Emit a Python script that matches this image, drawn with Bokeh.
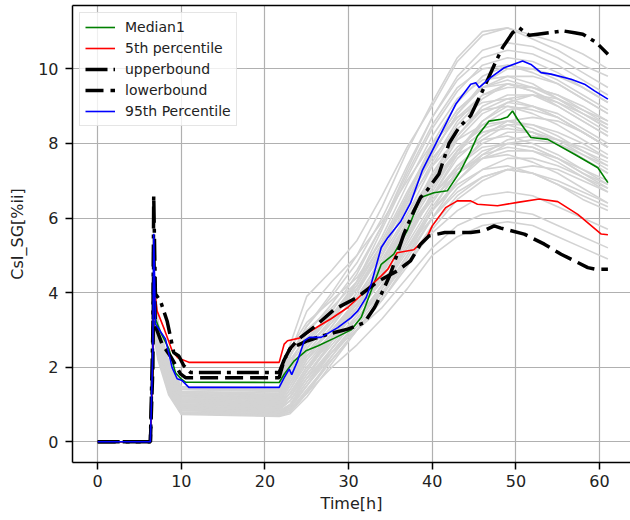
from bokeh.plotting import figure
from bokeh.models import Range1d, LinearAxis, FixedTicker
from bokeh.embed import file_html
from bokeh.resources import INLINE

# ---------------- data ----------------
time_gray = [0, 6.3, 6.7, 7.2, 8.5, 10, 21.7, 23, 25, 28, 31, 34, 37, 40, 43, 46, 49, 52, 55, 58, 61]
gray_curves = [
    [0, 0, 4.6, 3.1, 2.1, 1.45, 1.40, 2.6, 3.9, 4.6, 5.4, 6.6, 7.9, 9.0, 10.2, 10.9, 11.1, 10.9, 10.7, 10.4, 10.0],
    [0, 0, 4.2, 3.0, 2.0, 1.35, 1.30, 2.3, 3.1, 4.0, 5.0, 6.3, 7.8, 9.1, 10.3, 11.0, 11.1, 10.8, 10.5, 10.1, 9.8],
    [0, 0, 3.9, 2.9, 1.9, 1.25, 1.20, 1.9, 2.7, 3.5, 4.5, 5.8, 7.3, 8.7, 9.8, 10.5, 10.7, 10.6, 10.3, 9.9, 9.5],
    [0, 0, 3.7, 2.8, 1.8, 1.15, 1.10, 1.6, 2.4, 3.2, 4.3, 5.7, 7.1, 8.4, 9.4, 10.1, 10.3, 10.2, 9.9, 9.5, 9.1],
    [0, 0, 3.5, 2.7, 1.7, 1.05, 1.00, 1.4, 2.2, 3.1, 4.0, 5.2, 6.6, 8.0, 9.1, 9.8, 10.1, 10.0, 9.7, 9.3, 8.9],
    [0, 0, 3.3, 2.6, 1.6, 0.95, 0.90, 1.2, 1.9, 2.9, 3.8, 5.0, 6.4, 7.7, 8.8, 9.5, 9.8, 9.8, 9.6, 9.2, 8.8],
    [0, 0, 3.2, 2.5, 1.5, 0.85, 0.80, 1.0, 1.7, 2.7, 3.6, 4.8, 6.1, 7.4, 8.5, 9.2, 9.6, 9.5, 9.3, 8.9, 8.5],
    [0, 0, 3.0, 2.4, 1.4, 0.80, 0.75, 0.9, 1.5, 2.5, 3.4, 4.5, 5.8, 7.1, 8.2, 9.0, 9.3, 9.3, 9.0, 8.6, 8.2],
    [0, 0, 3.0, 2.3, 1.3, 0.75, 0.70, 0.8, 1.3, 2.3, 3.2, 4.2, 5.4, 6.7, 7.8, 8.6, 9.0, 8.9, 8.7, 8.3, 7.9],
    [0, 0, 2.9, 2.2, 1.25, 0.73, 0.68, 0.75, 1.2, 2.1, 3.0, 3.9, 5.0, 6.2, 7.3, 8.1, 8.5, 8.5, 8.3, 8.0, 7.6],
    [0, 0, 4.4, 3.1, 2.05, 1.40, 1.35, 2.2, 2.8, 3.4, 4.1, 5.2, 6.5, 7.6, 8.4, 8.9, 9.0, 8.8, 8.5, 8.1, 7.7],
    [0, 0, 4.0, 3.0, 1.95, 1.30, 1.25, 2.0, 2.6, 3.2, 3.9, 4.9, 6.0, 7.0, 7.8, 8.3, 8.4, 8.3, 8.0, 7.6, 7.2],
    [0, 0, 3.8, 2.9, 1.85, 1.20, 1.15, 1.7, 2.4, 3.0, 3.7, 4.6, 5.6, 6.5, 7.2, 7.7, 7.9, 7.8, 7.5, 7.1, 6.7],
    [0, 0, 3.6, 2.8, 1.75, 1.10, 1.05, 1.5, 2.2, 2.9, 3.5, 4.3, 5.2, 6.0, 6.7, 7.1, 7.3, 7.2, 6.9, 6.5, 6.2],
    [0, 0, 3.4, 2.7, 1.65, 1.00, 0.95, 1.3, 2.0, 2.7, 3.3, 4.0, 4.8, 5.6, 6.2, 6.6, 6.7, 6.6, 6.3, 6.0, 5.7],
    [0, 0, 3.2, 2.6, 1.55, 0.90, 0.85, 1.1, 1.7, 2.4, 3.0, 3.6, 4.4, 5.2, 5.8, 6.1, 6.2, 6.1, 5.8, 5.5, 5.2],
    [0, 0, 3.0, 2.4, 1.35, 0.75, 0.70, 0.8, 1.3, 2.0, 2.6, 3.3, 4.1, 5.0, 5.5, 5.8, 5.9, 5.8, 5.5, 5.2, 4.9],
    [0, 0, 4.8, 3.2, 2.15, 1.48, 1.45, 2.5, 3.2, 3.8, 4.4, 5.4, 6.7, 7.9, 8.9, 9.5, 9.6, 9.4, 9.1, 8.7, 8.3],
    [0, 0, 4.5, 3.1, 2.1, 1.45, 1.40, 2.4, 3.5, 4.3, 5.0, 5.9, 7.0, 8.0, 8.7, 9.1, 9.2, 9.0, 8.7, 8.3, 7.9],
    [0, 0, 3.9, 2.9, 1.9, 1.25, 1.20, 1.8, 2.5, 3.3, 4.2, 5.3, 6.6, 7.8, 8.7, 9.3, 9.5, 9.5, 9.3, 9.0, 8.6],
    [0, 0, 3.5, 2.7, 1.7, 1.05, 1.00, 1.3, 1.9, 2.8, 3.7, 4.7, 5.9, 7.2, 8.2, 8.9, 9.2, 9.3, 9.1, 8.8, 8.4],
    [0, 0, 3.3, 2.6, 1.6, 0.95, 0.90, 1.1, 1.8, 2.6, 3.4, 4.4, 5.5, 6.6, 7.6, 8.2, 8.6, 8.7, 8.6, 8.3, 7.9],
    [0, 0, 3.1, 2.5, 1.5, 0.85, 0.80, 0.95, 1.6, 2.4, 3.2, 4.1, 5.1, 6.2, 7.0, 7.6, 8.0, 8.1, 8.0, 7.7, 7.4],
    [0, 0, 2.9, 2.3, 1.3, 0.77, 0.72, 0.8, 1.3, 2.2, 3.0, 3.8, 4.7, 5.7, 6.5, 7.0, 7.3, 7.4, 7.3, 7.0, 6.7],
    [0, 0, 4.1, 3.0, 2.0, 1.35, 1.30, 2.1, 2.9, 3.7, 4.6, 5.8, 7.2, 8.5, 9.5, 10.0, 10.1, 9.9, 9.6, 9.2, 8.8],
    [0, 0, 3.7, 2.8, 1.8, 1.15, 1.10, 1.6, 2.3, 3.0, 3.8, 4.8, 5.9, 6.9, 7.7, 8.1, 8.2, 8.0, 7.7, 7.3, 6.9],
    [0, 0, 3.4, 2.7, 1.65, 1.00, 0.95, 1.2, 1.9, 2.8, 3.6, 4.6, 5.7, 6.8, 7.8, 8.5, 8.9, 9.0, 8.8, 8.4, 8.0],
    [0, 0, 3.1, 2.5, 1.45, 0.83, 0.78, 0.9, 1.5, 2.3, 3.1, 4.0, 5.0, 6.0, 6.8, 7.3, 7.6, 7.6, 7.4, 7.1, 6.8],
    [0, 0, 4.3, 3.05, 2.05, 1.40, 1.35, 2.3, 3.0, 3.6, 4.3, 5.3, 6.4, 7.4, 8.1, 8.5, 8.6, 8.4, 8.1, 7.7, 7.3],
    [0, 0, 3.5, 2.7, 1.7, 1.05, 1.00, 1.3, 2.0, 2.8, 3.6, 4.5, 5.6, 6.6, 7.4, 7.9, 8.0, 7.9, 7.6, 7.2, 6.8],
    [0, 0, 3.6, 2.75, 1.75, 1.12, 1.07, 1.5, 2.3, 3.1, 4.0, 5.1, 6.3, 7.5, 8.6, 9.3, 9.6, 9.4, 9.0, 8.6, 8.2],
    [0, 0, 3.3, 2.6, 1.6, 0.93, 0.88, 1.2, 1.8, 2.7, 3.5, 4.4, 5.4, 6.6, 7.7, 8.6, 9.1, 9.3, 9.2, 8.9, 8.6],
    [0, 0, 4.0, 2.95, 1.9, 1.28, 1.23, 1.9, 2.6, 3.4, 4.3, 5.5, 6.9, 8.2, 9.2, 9.7, 9.8, 9.6, 9.2, 8.8, 8.4],
    [0, 0, 3.2, 2.55, 1.5, 0.88, 0.83, 1.0, 1.6, 2.5, 3.3, 4.2, 5.3, 6.4, 7.4, 8.0, 8.3, 8.3, 8.1, 7.8, 7.5],
    [0, 0, 3.8, 2.9, 1.85, 1.18, 1.13, 1.7, 2.5, 3.3, 4.1, 5.0, 6.1, 7.1, 7.9, 8.4, 8.6, 8.5, 8.2, 7.8, 7.4],
    [0, 0, 3.0, 2.4, 1.4, 0.80, 0.75, 0.85, 1.4, 2.2, 3.0, 3.9, 4.9, 6.0, 7.0, 7.7, 8.1, 8.2, 8.1, 7.9, 7.6],
    [0, 0, 3.5, 2.7, 1.7, 1.02, 0.97, 1.3, 2.0, 2.9, 3.7, 4.7, 5.8, 6.9, 7.8, 8.3, 8.5, 8.3, 8.0, 7.6, 7.2],
    [0, 0, 4.2, 3.0, 2.0, 1.32, 1.27, 2.1, 2.7, 3.4, 4.2, 5.3, 6.6, 7.9, 8.9, 9.5, 9.7, 9.5, 9.2, 8.8, 8.5],
    [0, 0, 3.4, 2.65, 1.65, 0.98, 0.93, 1.2, 1.9, 2.8, 3.6, 4.6, 5.8, 7.0, 8.1, 8.8, 9.1, 9.0, 8.7, 8.3, 7.9],
    [0, 0, 3.1, 2.45, 1.45, 0.85, 0.80, 0.95, 1.5, 2.4, 3.2, 4.1, 5.2, 6.3, 7.2, 7.8, 8.0, 7.9, 7.6, 7.2, 6.9],
    [0, 0, 3.7, 2.85, 1.8, 1.12, 1.07, 1.6, 2.3, 3.0, 3.8, 4.7, 5.7, 6.6, 7.3, 7.6, 7.7, 7.5, 7.2, 6.8, 6.4],
    [0, 0, 3.3, 2.6, 1.6, 0.92, 0.87, 1.1, 1.7, 2.5, 3.3, 4.2, 5.2, 6.2, 6.9, 7.3, 7.4, 7.2, 6.9, 6.6, 6.3],
    [0, 0, 4.4, 3.1, 2.05, 1.42, 1.37, 2.3, 3.1, 3.9, 4.8, 6.0, 7.4, 8.7, 9.7, 10.3, 10.5, 10.4, 10.1, 9.7, 9.3],
    [0, 0, 3.9, 2.9, 1.9, 1.22, 1.17, 1.8, 2.5, 3.3, 4.1, 5.2, 6.5, 7.7, 8.8, 9.6, 10.0, 10.0, 9.8, 9.5, 9.1],
    [0, 0, 3.0, 2.35, 1.35, 0.78, 0.73, 0.85, 1.35, 2.2, 3.0, 3.8, 4.8, 5.8, 6.6, 7.1, 7.3, 7.2, 7.0, 6.7, 6.4],
    [0, 0, 3.6, 2.75, 1.75, 1.08, 1.03, 1.4, 2.1, 2.9, 3.7, 4.6, 5.6, 6.5, 7.2, 7.6, 7.8, 7.8, 7.6, 7.3, 7.0],
]

median_t = [0, 6.3, 6.6, 6.7, 6.9, 7.5, 8.5, 9.3, 10.0, 10.5, 21.7, 22.3, 23.5, 24.9, 26.3, 28.3, 30.3,
            31.5, 32.7, 33.9, 35.4, 37.0, 38.6, 40.2, 41.8, 43.4, 44.6, 45.4, 46.8, 48.2, 49.0, 49.6,
            50.2, 51.8, 53.8, 57.0, 59.8, 61.0]
median_y = [0, 0, 2.0, 4.6, 3.3, 2.95, 2.5, 1.85, 1.68, 1.6, 1.59, 1.81, 2.17, 2.44, 2.57, 2.78, 3.0,
            3.33, 4.05, 4.76, 5.03, 5.66, 6.55, 6.68, 6.73, 7.27, 7.8, 8.2, 8.6, 8.65, 8.71, 8.87,
            8.65, 8.16, 8.11, 7.71, 7.35, 6.95]

p5_t = [0, 6.3, 6.6, 6.7, 6.9, 7.1, 8.0, 8.9, 9.6, 10.9, 21.7, 22.3, 22.7, 24.1, 26.5, 27.9, 29.9,
        31.1, 32.7, 33.9, 34.7, 35.8, 37.8, 39.4, 40.0, 41.6, 43.0, 44.6, 45.4, 47.8, 50.2, 52.8,
        55.0, 57.4, 60.2, 61.0]
p5_y = [0, 0, 2.0, 4.3, 3.9, 3.51, 3.0, 2.44, 2.25, 2.13, 2.13, 2.62, 2.71, 2.78, 3.11, 3.3, 3.6,
        3.85, 4.2, 4.45, 4.63, 5.07, 5.15, 5.5, 5.79, 6.28, 6.46, 6.46, 6.37, 6.33, 6.42, 6.51,
        6.44, 6.1, 5.57, 5.55]

upper_t = [0, 6.3, 6.6, 6.7, 6.9, 7.5, 8.3, 9.1, 9.7, 10.3, 11.1, 21.7, 22.3, 23.0, 24.0, 25.1,
           26.3, 28.3, 29.9, 31.9, 33.1, 34.1, 35.0, 35.8, 36.6, 37.8, 38.6, 39.4, 40.8, 42.0,
           43.2, 44.6, 46.2, 47.4, 48.4, 49.6, 50.4, 51.6, 52.6, 54.0, 55.6, 57.0, 58.0, 59.6, 61.0]
upper_y = [0, 0, 3.0, 6.6, 3.97, 3.78, 3.24, 2.39, 2.3, 2.04, 1.86, 1.86, 2.2, 2.5, 2.6, 2.71,
           2.8, 2.93, 3.02, 3.2, 3.6, 4.05, 4.5, 5.03, 5.57, 6.19, 6.55, 6.75, 7.18, 8.0,
           8.43, 8.75, 9.5, 10.1, 10.57, 10.97, 11.1, 10.9, 10.93, 10.97, 11.02, 10.97, 10.93, 10.71, 10.39]

lower_t = [0, 6.3, 6.6, 6.7, 6.9, 7.7, 8.8, 9.9, 10.5, 21.7, 22.3, 23.0, 24.0, 26.0, 28.3, 31.0,
           33.5, 35.8, 37.4, 38.6, 39.6, 41.5, 44.6, 46.2, 47.4, 48.2, 51.0, 53.4, 55.4, 58.6, 59.5, 61.0]
lower_y = [0, 0, 2.0, 5.2, 3.1, 2.62, 2.26, 1.82, 1.72, 1.72, 2.2, 2.5, 2.75, 3.1, 3.55, 3.87,
           4.3, 4.58, 4.85, 5.3, 5.52, 5.61, 5.61, 5.66, 5.79, 5.73, 5.57, 5.3, 5.03, 4.67, 4.63, 4.63]

p95_t = [0, 6.3, 6.6, 6.7, 6.9, 8.1, 8.9, 9.5, 10.1, 10.9, 21.7, 22.3, 22.9, 23.2, 23.9, 24.7,
         25.3, 26.7, 28.7, 30.3, 31.1, 32.1, 32.7, 33.9, 34.7, 36.2, 37.4, 38.8, 40.4, 42.8, 44.6,
         45.2, 45.6, 47.0, 48.6, 50.8, 51.8, 53.0, 54.2, 56.6, 58.2, 59.4, 61.0]
p95_y = [0, 0, 2.5, 5.58, 3.16, 2.76, 1.99, 1.69, 1.64, 1.46, 1.46, 1.72, 1.95, 1.8, 2.17, 2.71,
         2.8, 2.8, 3.06, 3.33, 3.51, 3.87, 4.23, 5.21, 5.48, 5.9, 6.4, 7.27, 7.98, 9.05, 9.59,
         9.63, 9.5, 9.77, 10.03, 10.21, 10.12, 9.9, 9.86, 9.72, 9.59, 9.41, 9.19]

x_ticks = [0, 10, 20, 30, 40, 50, 60]
y_ticks = [0, 2, 4, 6, 8, 10]

FONT = "DejaVu Sans"

p = figure(width=630, height=520, output_backend="svg", toolbar_location=None,
           x_range=Range1d(-3.01, 63.7), y_range=Range1d(-0.556, 11.70),
           min_border_left=72, min_border_right=0, min_border_top=5, min_border_bottom=58)
p.outline_line_color = None
p.background_fill_color = "white"
p.border_fill_color = "white"

for ax in (p.xaxis[0], p.yaxis[0]):
    ax.axis_line_color = "black"
    ax.axis_line_width = 1.5
    ax.major_tick_line_color = "black"
    ax.major_tick_line_width = 1.5
    ax.major_tick_out = 7
    ax.major_tick_in = 0
    ax.minor_tick_line_color = None
    ax.major_label_text_font = FONT
    ax.major_label_text_font_size = "16px"
    ax.major_label_text_color = "#222222"
    ax.axis_label_text_font = FONT
    ax.axis_label_text_font_size = "16px"
    ax.axis_label_text_font_style = "normal"
    ax.axis_label_text_color = "#222222"

p.xaxis[0].ticker = FixedTicker(ticks=x_ticks)
p.yaxis[0].ticker = FixedTicker(ticks=y_ticks)
p.xaxis[0].axis_label = "Time[h]"
p.yaxis[0].axis_label = "CsI_SG[%ii]"
p.xaxis[0].major_label_standoff = 5
p.xaxis[0].axis_label_standoff = 4
p.yaxis[0].major_label_standoff = 7
p.yaxis[0].axis_label_standoff = 8

top_axis = LinearAxis(ticker=FixedTicker(ticks=[]), axis_line_color="black", axis_line_width=1.5,
                      major_tick_line_color=None, minor_tick_line_color=None,
                      major_label_text_font_size="0px")
p.add_layout(top_axis, "above")

p.xgrid.grid_line_color = "#b0b0b0"
p.ygrid.grid_line_color = "#b0b0b0"
p.xgrid.grid_line_width = 1.2
p.ygrid.grid_line_width = 1.2

p.multi_line([time_gray] * len(gray_curves), gray_curves, line_color="#d3d3d3", line_width=1.6)

p.line(median_t, median_y, line_color="#008000", line_width=1.6, legend_label="Median1")
p.line(p5_t, p5_y, line_color="#ff0000", line_width=1.6, legend_label="5th percentile")
p.line(upper_t, upper_y, line_color="black", line_width=3.5, line_dash="22 6 4 6",
       legend_label="upperbound")
p.line(lower_t, lower_y, line_color="black", line_width=3.5, line_dash="18 7",
       legend_label="lowerbound")
p.line(p95_t, p95_y, line_color="#0000ff", line_width=1.6, legend_label="95th Percentile")

lg = p.legend[0]
lg.location = "top_left"
lg.margin = 7
lg.padding = 5
lg.spacing = 3
lg.label_height = 18
lg.glyph_height = 18
lg.glyph_width = 30
lg.label_standoff = 10
lg.label_text_font = FONT
lg.label_text_font_size = "14px"
lg.label_text_color = "#222222"
lg.border_line_color = "#cccccc"
lg.border_line_width = 1
lg.background_fill_alpha = 0.8

open("out.html", "w").write(file_html(p, INLINE))
